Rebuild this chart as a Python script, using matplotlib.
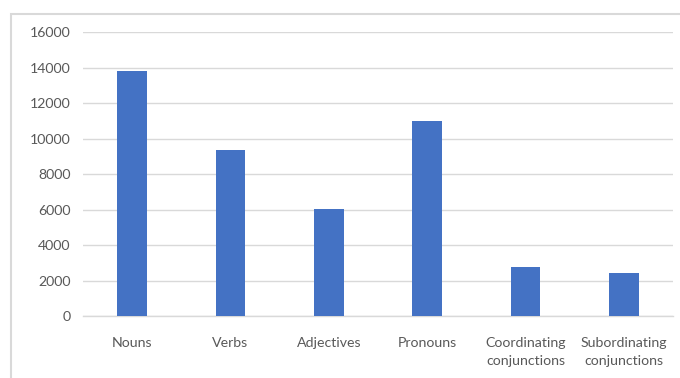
import matplotlib.pyplot as plt
from matplotlib.patches import Rectangle

categories = ['Nouns', 'Verbs', 'Adjectives', 'Pronouns',
              'Coordinating\nconjunctions', 'Subordinating\nconjunctions']
counts = [13800, 9350, 6020, 11000, 2760, 2450]
yticks = [0, 2000, 4000, 6000, 8000, 10000, 12000, 14000, 16000]

plt.rcParams['font.family'] = ['Lato', 'DejaVu Sans']
txt = '#595959'
grid = '#d9d9d9'

fig = plt.figure(figsize=(6.8, 3.78), dpi=100)
ax = fig.add_axes([83 / 680, 1 - 316.3 / 378, 590 / 680, (316.3 - 32.3) / 378])

# outer chart frame (cropped on the right and bottom)
fig.patches.append(Rectangle((11 / 680, -0.2), 1.2, 1.2 - 14 / 378,
                             transform=fig.transFigure, fill=False,
                             edgecolor=grid, lw=1.5))

x = range(len(categories))
ax.bar(x, counts, width=0.305, color='#4472C4', zorder=3)

ax.set_xlim(-0.5, len(categories) - 0.5)
ax.set_ylim(0, 16000)
ax.set_yticks(yticks)
ax.set_yticklabels([str(v) for v in yticks], color=txt, fontsize=10.2)
ax.set_xticks(list(x))
ax.set_xticklabels(categories, color=txt, fontsize=10.2, linespacing=1.55)
ax.tick_params(axis='both', length=0)
ax.tick_params(axis='y', pad=9)
ax.tick_params(axis='x', pad=15)

ax.yaxis.grid(True, color=grid, lw=1, zorder=0)
for s in ['top', 'right', 'left']:
    ax.spines[s].set_visible(False)
ax.spines['bottom'].set_color(grid)
ax.spines['bottom'].set_linewidth(1)

fig.savefig('out.png', dpi=100)
